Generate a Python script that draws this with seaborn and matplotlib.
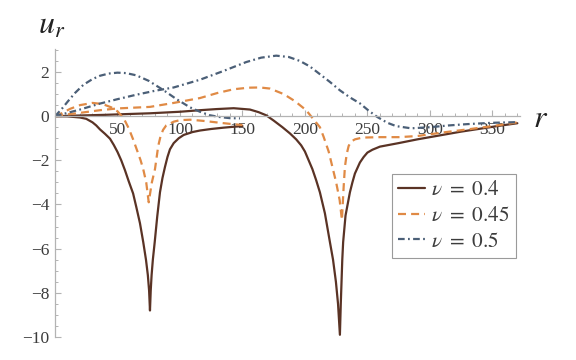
import matplotlib
matplotlib.use("Agg")
import matplotlib.pyplot as plt
import seaborn as sns
from matplotlib.ticker import MultipleLocator, FixedLocator

sns.set_theme(style="white")
plt.rcParams["font.family"] = ["Liberation Serif", "DejaVu Serif"]
plt.rcParams["mathtext.fontset"] = "stix"

# nu = 0.4, short branch (0..150) and long branch (0..370)
r_04a = [0, 10, 20, 25, 30, 33, 36, 40, 44, 47, 50, 53, 56, 59, 62.5, 65, 68, 70.6, 72.8,
         74.3, 75.3, 76, 76.6, 77.3, 78.3, 79.8, 81.8, 84, 86, 88, 90, 92, 95, 99, 103, 110,
         116, 125, 135, 143, 150]
u_04a = [0, -0.01, -0.06, -0.12, -0.28, -0.42, -0.6, -0.8, -1.02, -1.3, -1.62, -2.0, -2.45,
         -2.95, -3.5, -4.1, -4.85, -5.7, -6.5, -7.2, -7.9, -8.8, -7.9, -7.2, -6.5, -5.7,
         -4.55, -3.45, -2.8, -2.3, -1.85, -1.5, -1.22, -1.0, -0.85, -0.72, -0.65, -0.58,
         -0.52, -0.48, -0.45]
r_04b = [0, 20, 40, 60, 76, 100, 116, 129, 143, 156, 163, 169, 175, 182, 188, 193, 197, 200,
         203, 206, 209, 212, 216, 220, 222.5, 224.8, 226.5, 228, 228.7, 229.3, 229.9, 230.6,
         232.5, 236, 238, 240, 242, 244, 247, 250, 254, 260, 275, 290, 300, 313, 325, 340,
         355, 370]
u_04b = [0, 0.03, 0.06, 0.1, 0.13, 0.2, 0.27, 0.32, 0.36, 0.3, 0.18, 0.04, -0.2, -0.5, -0.78,
         -1.05, -1.32, -1.6, -2.0, -2.4, -2.9, -3.45, -4.4, -5.7, -6.5, -7.5, -8.5, -9.9,
         -8.5, -7.5, -6.5, -5.7, -4.5, -3.45, -3.0, -2.6, -2.35, -2.1, -1.85, -1.65, -1.52,
         -1.38, -1.22, -1.05, -0.95, -0.82, -0.7, -0.57, -0.44, -0.32]

# nu = 0.45
r_045a = [0, 5, 12, 20, 30, 38, 45, 50, 55, 59, 62.5, 66, 68.5, 70.6, 73, 75, 77.5, 80, 81.5,
          82.6, 84.5, 86.5, 89, 95, 100, 108, 120, 132, 142, 150]
u_045a = [0, 0.12, 0.33, 0.5, 0.6, 0.55, 0.4, 0.22, -0.1, -0.55, -1.05, -1.6, -2.0, -2.4,
          -3.0, -3.9, -3.0, -2.4, -1.8, -1.35, -0.9, -0.62, -0.42, -0.25, -0.18, -0.16, -0.22,
          -0.3, -0.36, -0.4]
r_045b = [0, 10, 20, 36, 50, 76, 95, 116, 130, 143, 155, 164, 172, 183, 192, 201, 207, 212,
          215, 219, 222, 225, 227.8, 229.6, 231, 232, 233.5, 235, 237, 240, 246, 260, 275,
          290, 300, 313, 330, 350, 370]
u_045b = [0, 0.08, 0.15, 0.27, 0.35, 0.42, 0.6, 0.82, 1.05, 1.22, 1.29, 1.3, 1.25, 1.0, 0.68,
          0.27, -0.15, -0.5, -0.94, -1.6, -2.3, -3.0, -3.8, -4.7, -3.2, -2.3, -1.7, -1.35,
          -1.15, -1.05, -0.97, -0.95, -0.95, -0.9, -0.82, -0.72, -0.6, -0.45, -0.28]

# nu = 0.5
r_05a = [0, 5, 10, 16, 22.7, 30, 36, 43, 50, 57, 65, 75, 87, 97, 108, 116, 124, 132, 140, 148]
u_05a = [0, 0.3, 0.65, 1.05, 1.42, 1.68, 1.83, 1.93, 1.97, 1.95, 1.85, 1.6, 1.17, 0.78, 0.4,
         0.2, 0.04, -0.04, -0.09, -0.1]
r_05b = [0, 10, 20, 36, 50, 65, 80, 95, 116, 135, 153, 165, 177, 187, 196, 204, 212, 220, 228,
         236, 244, 251, 258, 266, 273, 285, 300, 315, 330, 350, 370]
u_05b = [0, 0.15, 0.3, 0.57, 0.77, 0.97, 1.15, 1.3, 1.65, 2.05, 2.45, 2.65, 2.74, 2.68, 2.5,
         2.25, 1.9, 1.55, 1.17, 0.85, 0.58, 0.25, -0.04, -0.3, -0.45, -0.55, -0.5, -0.42,
         -0.36, -0.3, -0.27]

x_ticks = [50, 100, 150, 200, 250, 300, 350]
y_ticks = [2, 0, -2, -4, -6, -8, -10]
labels = ["$\\nu\\ =\\ 0.4$", "$\\nu\\ =\\ 0.45$", "$\\nu\\ =\\ 0.5$"]

BROWN = "#5a3325"
ORANGE = "#e08a45"
SLATE = "#4b5f77"
AXIS = "#b3b3b3"

fig = plt.figure(figsize=(5.76, 3.6), dpi=100)
ax = fig.add_axes([0.0955, 0.0639, 0.807, 0.8005])

styles = [
    (r_04a, u_04a, r_04b, u_04b, BROWN, "-"),
    (r_045a, u_045a, r_045b, u_045b, ORANGE, (0, (3.6, 2.3))),
    (r_05a, u_05a, r_05b, u_05b, SLATE, (0, (3, 1.5, 0.8, 1.5))),
]
handles = []
for (ra, ua, rb, ub, col, ls), lab in zip(styles, labels):
    sns.lineplot(x=ra, y=ua, ax=ax, color=col, linestyle=ls, linewidth=1.6,
                 sort=False, estimator=None)
    sns.lineplot(x=rb, y=ub, ax=ax, color=col, linestyle=ls, linewidth=1.6,
                 sort=False, estimator=None)
    handles.append(ax.lines[-1])

ax.set_xlim(0, 372)
ax.set_ylim(-10, 3.05)

for s in ["top", "right"]:
    ax.spines[s].set_visible(False)
ax.spines["bottom"].set_position(("data", 0))
for s in ["left", "bottom"]:
    ax.spines[s].set_color(AXIS)
    ax.spines[s].set_linewidth(0.9)

ax.xaxis.set_major_locator(FixedLocator(x_ticks))
ax.xaxis.set_minor_locator(MultipleLocator(10))
ax.yaxis.set_major_locator(FixedLocator(y_ticks))
ax.yaxis.set_minor_locator(MultipleLocator(0.5))
ax.set_xticklabels([str(v) for v in x_ticks])
ax.set_yticklabels([str(v).replace("-", "\u2212") for v in y_ticks])
ax.tick_params(which="both", direction="in", color=AXIS, labelcolor="#3c3c3c",
               labelsize=12.5, bottom=True, left=True)
ax.tick_params(which="major", length=4, width=0.8, pad=4)
ax.tick_params(which="minor", length=2.2, width=0.7)
ax.set_xlabel("")
ax.set_ylabel("")

fig.text(0.066, 0.905, "$u_r$", fontsize=23, color="#222222")
fig.text(0.925, 0.648, "$r$", fontsize=23, color="#222222")

leg = ax.legend(handles, labels, loc="upper left",
                bbox_to_anchor=(392 / 576, 1 - 174 / 360),
                bbox_transform=fig.transFigure, borderaxespad=0, fancybox=False,
                framealpha=1, edgecolor="#9a9a9a", fontsize=15.3, handlelength=1.25,
                handletextpad=0.3, labelspacing=0.28, borderpad=0.3)
leg.get_frame().set_linewidth(0.8)
for t in leg.get_texts():
    t.set_color("#3c3c3c")

fig.savefig("out.png", dpi=100)
